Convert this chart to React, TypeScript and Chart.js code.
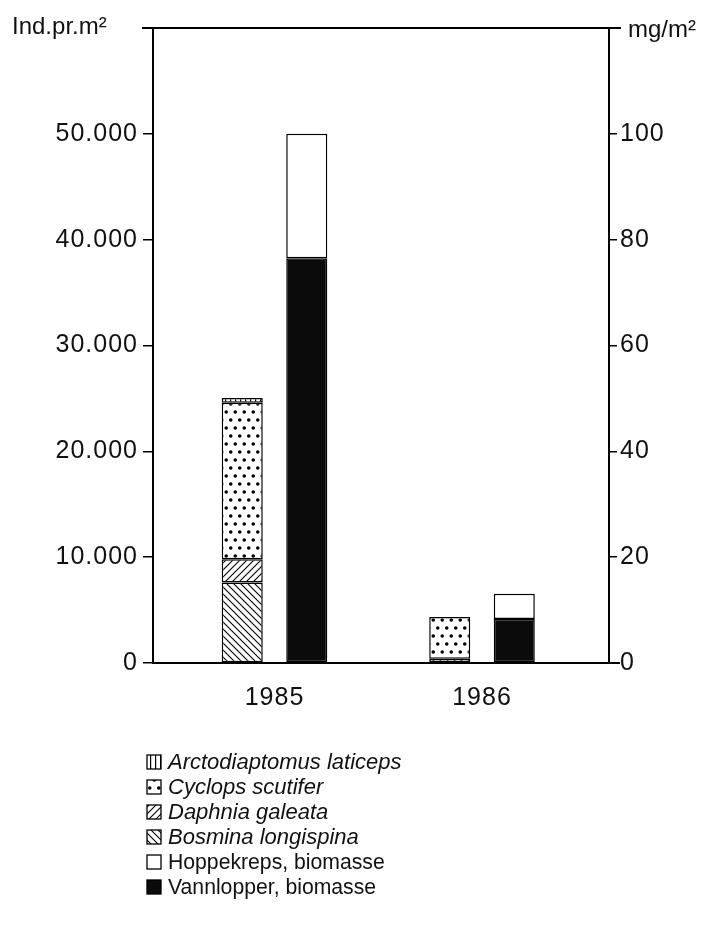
import React, { useEffect, useRef } from 'react';
import { Chart, registerables } from 'chart.js';

Chart.register(...registerables);

// ---- data ----
const years = ['1985', '1986'];
const bosmina: (number | null)[] = [7600, null];
const daphnia: (number | null)[] = [2200, 400];
const cyclops: (number | null)[] = [14800, 3950];
const arcto: (number | null)[] = [450, null];
const vannlopper: (number | null)[] = [76.5, 8.3];
const hoppekreps: (number | null)[] = [23.5, 4.8];
const leftMax = 60000;
const leftStep = 10000;
const rightMax = 120;
const rightStep = 20;
const leftTitle = 'Ind.pr.m²';
const rightTitle = 'mg/m²';
const legendLabels = [
  'Arctodiaptomus laticeps',
  'Cyclops scutifer',
  'Daphnia galeata',
  'Bosmina longispina',
  'Hoppekreps, biomasse',
  'Vannlopper, biomasse',
];
const legendItalic = [true, true, true, true, false, false];
const legendKinds = ['vert', 'dots', 'fwd', 'back', 'white', 'black'];

const FONT = '"Liberation Sans", Arial, Helvetica, sans-serif';

function makePattern(kind: string): CanvasPattern | string {
  if (kind === 'white') return '#ffffff';
  if (kind === 'black') return '#0b0b0b';
  const c = document.createElement('canvas');
  const ctx = c.getContext('2d')!;
  if (kind === 'back' || kind === 'fwd') {
    const s = 7;
    c.width = s; c.height = s;
    ctx.fillStyle = '#fff'; ctx.fillRect(0, 0, s, s);
    ctx.strokeStyle = '#000'; ctx.lineWidth = 1.1;
    ctx.beginPath();
    if (kind === 'back') {
      ctx.moveTo(-1, -1); ctx.lineTo(s + 1, s + 1);
      ctx.moveTo(-1, s - 1); ctx.lineTo(1, s + 1);
      ctx.moveTo(s - 1, -1); ctx.lineTo(s + 1, 1);
    } else {
      ctx.moveTo(-1, s + 1); ctx.lineTo(s + 1, -1);
      ctx.moveTo(-1, 1); ctx.lineTo(1, -1);
      ctx.moveTo(s - 1, s + 1); ctx.lineTo(s + 1, s - 1);
    }
    ctx.stroke();
  } else if (kind === 'vert') {
    const s = 5;
    c.width = s; c.height = s;
    ctx.fillStyle = '#fff'; ctx.fillRect(0, 0, s, s);
    ctx.fillStyle = '#000'; ctx.fillRect(2, 0, 1.2, s);
  } else if (kind === 'dots') {
    c.width = 9; c.height = 16;
    ctx.fillStyle = '#fff'; ctx.fillRect(0, 0, 9, 16);
    ctx.fillStyle = '#000';
    ctx.beginPath(); ctx.arc(2.25, 4, 1.8, 0, Math.PI * 2); ctx.fill();
    ctx.beginPath(); ctx.arc(6.75, 12, 1.8, 0, Math.PI * 2); ctx.fill();
  }
  return ctx.createPattern(c, 'repeat')!;
}

function fmtThousands(v: number): string {
  return String(Math.round(v)).replace(/\B(?=(\d{3})+(?!\d))/g, '.');
}

export default function App() {
  const ref = useRef<HTMLCanvasElement | null>(null);

  useEffect(() => {
    if (!ref.current) return;
    const pats: Record<string, CanvasPattern | string> = {};
    legendKinds.forEach((k) => { pats[k] = makePattern(k); });

    const pts = (arr: (number | null)[]) => arr.map((v, i) => ({ x: i, y: v }));
    const common = {
      borderColor: '#000',
      borderWidth: 1.5,
      borderSkipped: false as const,
      categoryPercentage: 0.622,
      barPercentage: 0.636,
    };

    const datasets: any[] = [
      { label: legendLabels[3], data: pts(bosmina), backgroundColor: pats['back'], stack: 'ind', yAxisID: 'y', ...common },
      { label: legendLabels[2], data: pts(daphnia), backgroundColor: pats['fwd'], stack: 'ind', yAxisID: 'y', ...common },
      { label: legendLabels[1], data: pts(cyclops), backgroundColor: pats['dots'], stack: 'ind', yAxisID: 'y', ...common },
      { label: legendLabels[0], data: pts(arcto), backgroundColor: pats['vert'], stack: 'ind', yAxisID: 'y', ...common },
      { label: legendLabels[5], data: pts(vannlopper), backgroundColor: pats['black'], stack: 'bio', yAxisID: 'y1', ...common },
      { label: legendLabels[4], data: pts(hoppekreps), backgroundColor: pats['white'], stack: 'bio', yAxisID: 'y1', ...common },
    ];

    const decor = {
      id: 'decor',
      beforeDraw(chart: any) {
        try { chart.ctx.letterSpacing = '1px'; } catch (e) { /* ignore */ }
      },
      afterDraw(chart: any) {
        const { ctx, chartArea } = chart;
        ctx.save();
        try { ctx.letterSpacing = '0px'; } catch (e) { /* ignore */ }
        // top frame line
        ctx.strokeStyle = '#000';
        ctx.lineWidth = 2;
        ctx.beginPath();
        ctx.moveTo(chartArea.left - 11, chartArea.top);
        ctx.lineTo(chartArea.right + 12, chartArea.top);
        ctx.stroke();
        // bottom extension to the right
        ctx.beginPath();
        ctx.moveTo(chartArea.right, chartArea.bottom);
        ctx.lineTo(chartArea.right + 11, chartArea.bottom);
        ctx.stroke();
        // axis titles
        ctx.fillStyle = '#111';
        ctx.font = `24px ${FONT}`;
        ctx.textBaseline = 'middle';
        ctx.textAlign = 'left';
        ctx.fillText(leftTitle, 4, chartArea.top - 1);
        ctx.fillText(rightTitle, chartArea.right + 19, chartArea.top + 2);
        // legend
        const x0 = 139;
        const y0 = 754;
        const dy = 25;
        legendLabels.forEach((lab, i) => {
          const cy = y0 + i * dy;
          ctx.fillStyle = pats[legendKinds[i]] as any;
          ctx.fillRect(x0, cy - 7, 14, 14);
          ctx.strokeStyle = '#000';
          ctx.lineWidth = 1.3;
          ctx.strokeRect(x0, cy - 7, 14, 14);
          ctx.fillStyle = '#111';
          ctx.font = legendItalic[i] ? `italic 22px ${FONT}` : `21.2px ${FONT}`;
          ctx.textBaseline = 'middle';
          ctx.fillText(lab, x0 + 21, cy + 1);
        });
        ctx.restore();
      },
    };

    const chart = new Chart(ref.current, {
      type: 'bar',
      data: { datasets },
      plugins: [decor],
      options: {
        animation: false,
        responsive: true,
        maintainAspectRatio: false,
        layout: { padding: { top: 20, left: 0, right: 0, bottom: 0 } },
        plugins: { legend: { display: false }, tooltip: { enabled: false } },
        scales: {
          x: {
            type: 'linear',
            min: -0.5855,
            max: 1.612,
            offset: false,
            afterBuildTicks: (s: any) => { s.ticks = years.map((_, i) => ({ value: i })); },
            afterFit: (s: any) => { s.height = 260; },
            grid: { display: false },
            border: { display: true, color: '#000', width: 2 },
            ticks: {
              color: '#111',
              font: { family: FONT, size: 25 },
              padding: 12,
              autoSkip: false,
              maxRotation: 0,
              callback: (v: any) => years[v as number] ?? '',
            },
          },
          y: {
            type: 'linear',
            position: 'left',
            stacked: true,
            min: 0,
            max: leftMax,
            afterFit: (s: any) => { s.width = 145; },
            grid: { drawOnChartArea: false, drawTicks: true, tickLength: 10, color: '#000', lineWidth: 1.5 },
            border: { display: true, color: '#000', width: 2 },
            ticks: {
              stepSize: leftStep,
              color: '#111',
              font: { family: FONT, size: 25 },
              padding: 5,
              callback: (v: any) => (v >= leftMax ? '' : fmtThousands(v as number)),
            },
          },
          y1: {
            type: 'linear',
            position: 'right',
            stacked: true,
            min: 0,
            max: rightMax,
            afterFit: (s: any) => { s.width = 100; },
            grid: { drawOnChartArea: false, drawTicks: true, tickLength: 8, color: '#000', lineWidth: 1.5 },
            border: { display: true, color: '#000', width: 2 },
            ticks: {
              stepSize: rightStep,
              color: '#111',
              font: { family: FONT, size: 25 },
              padding: 3,
              callback: (v: any) => (v >= rightMax ? '' : String(v)),
            },
          },
        },
      },
    } as any);

    return () => chart.destroy();
  }, []);

  return (
    <div style={{ position: 'relative', width: 701, height: 915 }}>
      <canvas ref={ref} />
    </div>
  );
}
